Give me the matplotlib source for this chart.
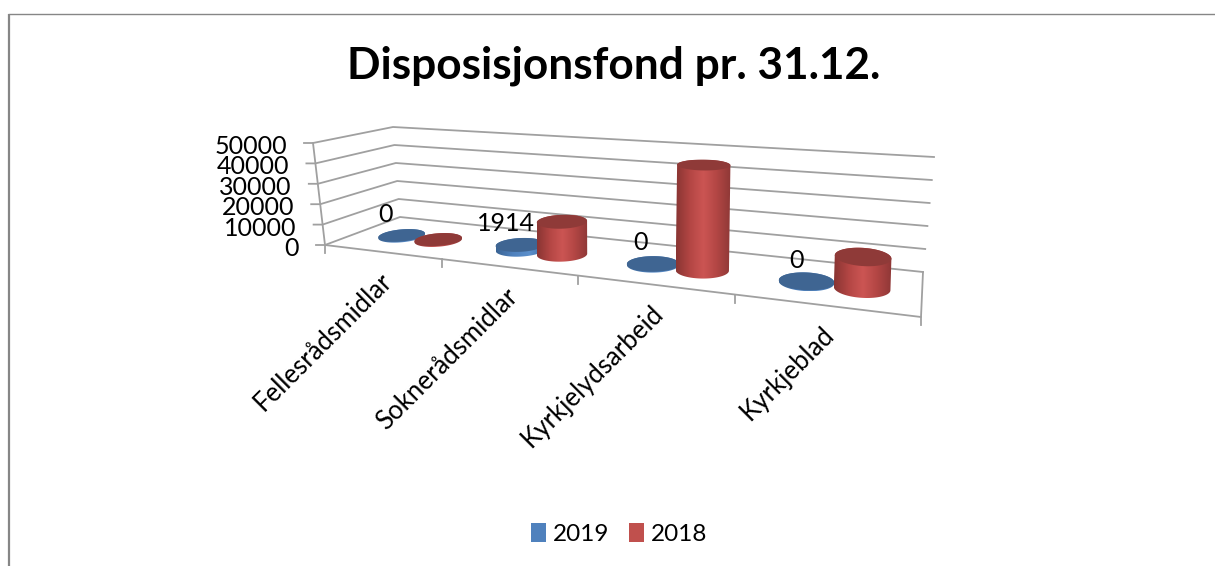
import numpy as np
import matplotlib
matplotlib.use('Agg')
import matplotlib.pyplot as plt
from matplotlib.patches import Polygon, Patch
from matplotlib.colors import LinearSegmentedColormap

plt.rcParams['font.family'] = ['Lato', 'DejaVu Sans']

categories = ['Fellesrådsmidlar', 'Soknerådsmidlar', 'Kyrkjelydsarbeid', 'Kyrkjeblad']
values_2019 = [0, 1914, 0, 0]
values_2018 = [0, 15000, 46000, 12600]
y_ticks = [0, 10000, 20000, 30000, 40000, 50000]
y_max = 50000

# corners of the 3d box in pixels: (category, depth)
floor = {(0, 0): (325, 245), (1, 0): (921, 317), (0, 1): (400, 217), (1, 1): (923, 272)}
roof = {(0, 0): (313, 143), (1, 0): (937, 182), (0, 1): (393, 127), (1, 1): (934, 157)}
persp = -0.262
grey = '#a0a0a0'
# where the cylinders sit inside each category slot
blue_pos = [0.37, 0.39, 0.376, 0.356]
red_pos = [0.70, 0.716, 0.708, 0.675]


def warp(u):
    return u * (1 + persp) / (1 + persp * u)


def bilin(c, a, d):
    p = [(1 - a) * (1 - d) * c[0, 0][k] + a * (1 - d) * c[1, 0][k]
         + (1 - a) * d * c[0, 1][k] + a * d * c[1, 1][k] for k in range(2)]
    return np.array(p)


def project(cat, depth, val):
    # cat in category units (0..4), depth 0..1, val in chart units
    a = warp(cat / len(categories))
    w = val / y_max
    return (1 - w) * bilin(floor, a, depth) + w * bilin(roof, a, depth)


def ellipse(cx, cy, w, h, tilt, a0=0, a1=360):
    t = np.radians(np.linspace(a0, a1, 80))
    r = np.radians(tilt)
    x = w / 2 * np.cos(t)
    y = h / 2 * np.sin(t)
    return np.column_stack([cx + x * np.cos(r) - y * np.sin(r),
                            cy + x * np.sin(r) + y * np.cos(r)])


def cylinder(ax, cat, val, top_col, side_cols, z):
    a = warp(cat / len(categories))
    w = 46 + 12 * a
    h = 11.5 + 8 * a
    tilt = -6 + 11 * a
    b = project(cat, 0.5, 0)
    t = project(cat, 0.5, val)
    tx = b[0] + 0.35 * (t[0] - b[0])  # cylinders lean less than the walls
    h_top = h * (1 - 0.4 * (val / y_max) ** 2)
    # y grows downward, so 0..180 is the lower half of the ellipse
    low = ellipse(b[0], b[1] + 0.8, w, h, tilt, 0, 180)
    up = ellipse(tx, t[1], w, h_top, tilt, 180, 360)
    pts = np.vstack([low, up])
    side = Polygon(pts, closed=True, fc='none', ec='none', zorder=z)
    ax.add_patch(side)
    cmap = LinearSegmentedColormap.from_list('c', side_cols)
    x0, x1 = pts[:, 0].min(), pts[:, 0].max()
    y0, y1 = pts[:, 1].min(), pts[:, 1].max()
    im = ax.imshow(np.linspace(0, 1, 64)[None, :], cmap=cmap, aspect='auto',
                   extent=(x0, x1, y1, y0), zorder=z)
    im.set_clip_path(side)
    ax.add_patch(Polygon(ellipse(tx, t[1], w, h_top, tilt), closed=True,
                         fc=top_col, ec='none', zorder=z + 0.1))


fig = plt.figure(figsize=(12.15, 5.66), dpi=100)
ax = fig.add_axes([0, 0, 1, 1])

# outer chart border
ax.plot([8.5, 8.5], [566, 13.5], color='#868686', lw=1.6, solid_capstyle='butt')
ax.plot([8, 1215], [13.5, 13.5], color='#868686', lw=1.0, solid_capstyle='butt')

# walls and gridlines
for v in y_ticks:
    p0 = project(0, 0, v)
    p1 = project(0, 1, v)
    p2 = project(4, 1, v)
    ax.plot([p0[0] - 9, p0[0], p1[0], p2[0]], [p0[1], p0[1], p1[1], p2[1]], color=grey, lw=1.3, zorder=1)
    ax.text(p0[0] - 26, p0[1] + 3.5, str(v), fontsize=18, ha='right', va='center', color='black', zorder=6)

p0 = project(0, 0, 0)
pt = project(0, 0, y_max)
ax.plot([p0[0], pt[0]], [p0[1], pt[1]], color=grey, lw=1.3, zorder=1)

# floor front and right edge with category ticks
fr = project(4, 0, 0)
br = project(4, 1, 0)
ax.plot([p0[0], fr[0], br[0]], [p0[1], fr[1], br[1]], color=grey, lw=1.3, zorder=1)
for i in range(len(categories) + 1):
    p = project(i, 0, 0)
    ax.plot([p[0] - 0.5, p[0] - 0.5], [p[1], p[1] + 8], color=grey, lw=1.3, zorder=1)

# cylinders
blue_side = ['#3a6494', '#4f81bd', '#5b8fcb', '#3f6ea6']
red_side = ['#8a3533', '#b34644', '#cc5553', '#b24644', '#8f3837']
for i in range(len(categories)):
    cylinder(ax, i + blue_pos[i], values_2019[i], '#3f6592', blue_side, 3 + i)
    cylinder(ax, i + red_pos[i], values_2018[i], '#8f3a38', red_side, 3.5 + i)

    # data label of the 2019 series
    p = project(i + blue_pos[i], 0.5, values_2019[i])
    off = -16.5 + 8.5 * warp((i + blue_pos[i]) / len(categories))
    ax.text(p[0] + off, p[1] - 21, str(values_2019[i]), fontsize=18, ha='center', va='center', zorder=9)

    # category labels
    f = project(i + 0.5, 0, 0)
    ax.text(f[0] + 6, f[1] + 25, categories[i], fontsize=18.5, rotation=45, rotation_mode='anchor',
            ha='right', va='center', zorder=9)

ax.text(614, 66, 'Disposisjonsfond pr. 31.12.', fontsize=31.8, fontweight='bold', ha='center', va='center')

handles = [Patch(fc='#4f81bd', ec='none', label='2019'), Patch(fc='#c0504d', ec='none', label='2018')]
ax.legend(handles=handles, ncol=2, frameon=False, fontsize=17.5, loc='center', bbox_to_anchor=(619, 534),
          bbox_transform=ax.transData, handlelength=0.617, handleheight=0.85, handletextpad=0.29,
          columnspacing=0.82, borderpad=0)

ax.set_xlim(0, 1215)
ax.set_ylim(566, 0)
ax.axis('off')

fig.savefig('out.png', dpi=100)
